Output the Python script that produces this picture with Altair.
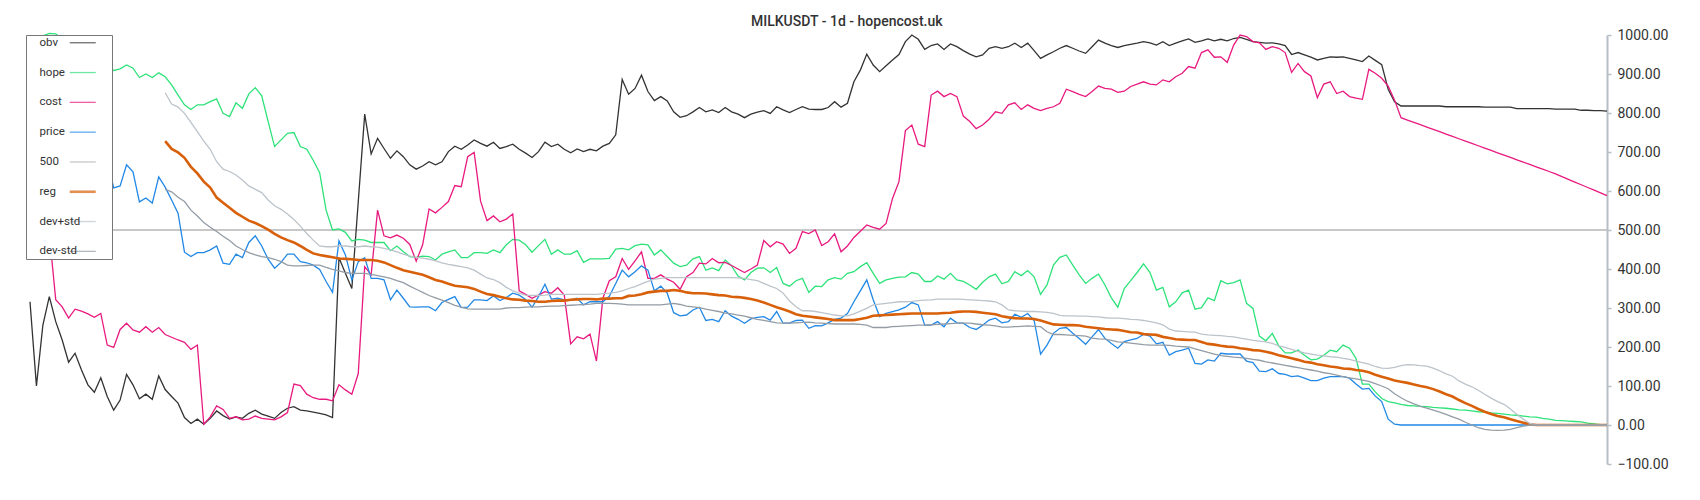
import altair as alt
import pandas as pd

N = 246          # daily points, index 0..245
REG_START = 21   # reg / dev lines start at this index

obv = [
    316, 100, 256, 329, 265, 218, 161, 184, 141, 103,
    84, 121, 73, 38, 64, 130, 103, 67, 79, 66,
    126, 91, 73, 56, 19, 4, 15, 2, 17, 36,
    24, 15, 21, 17, 30, 38, 28, 23, 17, 32,
    43, 47, 38, 36, 33, 30, 26, 19, 429, 389,
    350, 573, 797, 695, 735, 709, 684, 703, 688, 667,
    656, 664, 675, 667, 675, 701, 715, 707, 718, 731,
    722, 715, 725, 709, 714, 720, 707, 697, 686, 701,
    725, 714, 720, 707, 698, 708, 701, 707, 703, 715,
    722, 744, 886, 848, 863, 897, 855, 832, 842, 831,
    803, 789, 793, 803, 814, 803, 808, 801, 814, 803,
    797, 788, 797, 802, 806, 799, 816, 808, 801, 809,
    816, 810, 809, 809, 814, 829, 815, 825, 880, 910,
    951, 923, 906, 921, 936, 950, 983, 1000, 989, 963,
    973, 977, 963, 977, 970, 960, 951, 944, 949, 966,
    970, 966, 970, 979, 968, 979, 960, 940, 949, 957,
    966, 973, 966, 959, 953, 970, 987, 979, 973, 968,
    973, 976, 979, 983, 980, 974, 983, 973, 979, 985,
    990, 981, 985, 990, 985, 989, 985, 991, 994, 989,
    983, 981, 979, 980, 977, 973, 950, 955, 949, 943,
    936, 940, 944, 943, 944, 940, 936, 932, 946, 935,
    924, 861, 829, 818, 818, 818, 818, 818, 818, 818,
    816, 816, 816, 816, 816, 816, 815, 815, 815, 815,
    815, 811, 811, 811, 811, 811, 811, 810, 810, 810,
    810, 807, 807, 806, 806, 805,
]

hope = [
    960, 985, 998, 1004, 1003, 990, 972, 960, 950, 942,
    935, 928, 921, 909, 913, 923, 915, 891, 900, 891,
    903, 893, 872, 846, 821, 809, 821, 821, 829, 836,
    799, 791, 826, 812, 849, 865, 844, 778, 714, 731,
    748, 750, 714, 707, 679, 647, 551, 500, 503, 494,
    472, 476, 474, 468, 468, 468, 447, 459, 444, 432,
    430, 433, 432, 423, 438, 444, 449, 429, 429, 442,
    442, 440, 449, 442, 462, 476, 474, 462, 443, 460,
    476, 438, 449, 438, 438, 447, 417, 426, 426, 426,
    427, 451, 453, 449, 460, 464, 462, 436, 449, 432,
    415, 406, 410, 426, 432, 397, 403, 396, 423, 408,
    382, 372, 391, 402, 403, 391, 404, 363, 356, 370,
    376, 340, 356, 355, 372, 378, 374, 389, 393, 406,
    416, 389, 363, 372, 376, 379, 380, 391, 387, 368,
    368, 382, 374, 389, 372, 368, 359, 348, 366, 380,
    387, 362, 368, 393, 383, 396, 380, 335, 359, 410,
    430, 436, 410, 385, 363, 376, 387, 359, 326, 302,
    350, 370, 391, 413, 391, 346, 353, 303, 316, 339,
    346, 297, 301, 326, 319, 370, 362, 365, 372, 312,
    299, 228, 216, 235, 203, 185, 185, 192, 179, 167,
    169, 179, 192, 188, 205, 197, 171, 105, 105, 85,
    68, 60, 57, 53, 50, 49, 48, 47, 45, 44,
    43, 41, 39, 38, 36, 34, 33, 31, 30, 28,
    26, 25, 23, 21, 20, 17, 15, 12, 11, 10,
    9, 8, 5, 3, 1, 0,
]

cost = [
    600, 565, 530, 490, 321, 303, 274, 297, 292, 285,
    276, 286, 205, 199, 245, 261, 244, 238, 252, 238,
    250, 232, 225, 218, 212, 194, 205, 2, 21, 49,
    40, 17, 21, 13, 15, 23, 17, 15, 13, 21,
    32, 105, 101, 79, 70, 66, 66, 62, 103, 90,
    79, 132, 406, 385, 551, 485, 480, 487, 479, 463,
    420, 462, 554, 544, 558, 573, 614, 611, 688, 699,
    574, 524, 536, 521, 528, 541, 344, 335, 325, 333,
    342, 338, 352, 333, 208, 226, 221, 233, 164, 325,
    370, 380, 427, 399, 421, 444, 376, 376, 385, 374,
    366, 348, 380, 391, 415, 413, 427, 416, 417, 409,
    400, 391, 400, 410, 473, 457, 470, 464, 440, 453,
    496, 491, 500, 460, 470, 490, 444, 459, 481, 497,
    513, 507, 502, 517, 581, 624, 755, 769, 720, 714,
    846, 856, 842, 850, 842, 792, 778, 760, 769, 784,
    803, 799, 821, 826, 809, 821, 812, 806, 812, 816,
    825, 861, 855, 848, 842, 855, 869, 863, 861, 853,
    856, 868, 874, 880, 874, 872, 885, 880, 893, 902,
    919, 915, 955, 962, 943, 944, 930, 974, 1000, 996,
    983, 980, 963, 970, 966, 955, 904, 927, 906, 895,
    839, 874, 880, 850, 856, 842, 838, 835, 912, 902,
    889, 869, 833, 788, 782, 776, 770, 764, 758, 752,
    746, 740, 734, 728, 722, 716, 710, 704, 698, 692,
    686, 680, 674, 668, 662, 656, 650, 644, 637, 630,
    623, 616, 609, 602, 595, 588,
]

price = [
    700, 690, 712, 684, 662, 700, 688, 650, 640, 672,
    660, 648, 680, 608, 613, 667, 649, 572, 582, 569,
    636, 610, 577, 543, 443, 432, 442, 442, 449, 459,
    415, 412, 438, 429, 468, 485, 459, 425, 402, 417,
    438, 438, 419, 416, 410, 399, 368, 340, 472, 436,
    372, 419, 429, 376, 376, 372, 321, 346, 325, 303,
    302, 303, 303, 293, 314, 322, 329, 301, 302, 321,
    321, 319, 331, 319, 327, 338, 333, 322, 302, 329,
    361, 323, 325, 321, 321, 325, 308, 316, 316, 316,
    330, 363, 397, 380, 393, 408, 397, 344, 356, 338,
    288, 280, 282, 295, 302, 268, 271, 265, 293, 279,
    271, 261, 272, 276, 278, 269, 291, 261, 261, 268,
    269, 248, 255, 254, 262, 271, 274, 286, 316, 344,
    372, 321, 278, 286, 291, 295, 302, 314, 308, 256,
    256, 265, 252, 274, 262, 261, 250, 245, 256, 269,
    274, 262, 265, 284, 276, 286, 268, 182, 205, 235,
    248, 250, 235, 222, 207, 226, 245, 222, 209, 197,
    214, 218, 222, 233, 228, 208, 212, 179, 188, 192,
    197, 158, 156, 167, 164, 184, 182, 182, 182, 164,
    160, 138, 137, 144, 132, 130, 124, 126, 120, 114,
    114, 120, 124, 124, 124, 120, 105, 92, 94, 74,
    60, 15, 2, 0, 0, 0, 0, 0, 0, 0,
    0, 0, 0, 0, 0, 0, 0, 0, 0, 0,
    0, 0, 0, 0, 0, 0, 0, 0, 0, 0,
    0, 0, 0, 0, 0, 0,
]

# from index 21 on
reg = [
    728, 708, 699, 685, 662, 645, 624, 609, 583,
    570, 557, 544, 534, 524, 518, 510, 501, 490, 481,
    474, 468, 459, 449, 440, 436, 433, 430, 427, 426,
    425, 423, 423, 423, 421, 417, 410, 403, 397, 393,
    389, 385, 379, 372, 368, 362, 357, 355, 353, 349,
    342, 336, 333, 329, 325, 322, 321, 319, 318, 316,
    316, 318, 319, 319, 321, 322, 323, 323, 322, 324,
    324, 325, 325, 331, 332, 335, 340, 342, 344, 344,
    346, 344, 340, 338, 338, 337, 335, 333, 332, 329,
    328, 326, 323, 319, 314, 308, 302, 297, 291, 284,
    280, 278, 276, 274, 272, 269, 269, 269, 269, 272,
    275, 280, 281, 282, 283, 284, 285, 286, 286, 286,
    286, 286, 287, 288, 290, 291, 291, 290, 288, 286,
    284, 279, 276, 274, 273, 273, 272, 268, 263, 258,
    257, 256, 256, 255, 252, 250, 248, 246, 245, 244,
    241, 238, 237, 233, 232, 231, 226, 223, 220, 219,
    218, 218, 213, 208, 206, 203, 201, 200, 197, 195,
    192, 191, 188, 184, 179, 175, 171, 167, 162, 160,
    156, 153, 150, 148, 145, 144, 141, 139, 135, 129,
    124, 119, 114, 111, 108, 104, 100, 97, 92, 86,
    79, 73, 64, 56, 49, 41, 34, 28, 23, 20,
    15, 10, 6, 2, 0, 0, 0, 0, 0, 0,
    0, 0, 0, 0, 0, 0,
]

dev_plus = [
    852, 823, 815, 799, 776, 752, 728, 707, 675,
    656, 650, 641, 628, 613, 604, 596, 577, 562, 553,
    541, 527, 510, 491, 474, 459, 457, 457, 459, 459,
    457, 457, 459, 457, 456, 453, 449, 444, 438, 433,
    430, 428, 425, 421, 416, 412, 409, 406, 403, 397,
    387, 377, 373, 365, 353, 344, 338, 333, 332, 332,
    333, 335, 335, 335, 335, 335, 335, 335, 335, 337,
    338, 340, 344, 350, 355, 362, 368, 374, 376, 378,
    378, 378, 378, 378, 378, 378, 378, 378, 378, 378,
    377, 376, 373, 370, 363, 356, 350, 338, 318, 303,
    293, 293, 291, 288, 285, 282, 280, 280, 285, 292,
    299, 308, 310, 312, 314, 316, 316, 317, 319, 320,
    321, 323, 323, 323, 323, 322, 321, 320, 319, 318,
    316, 308, 295, 293, 292, 291, 291, 290, 289, 286,
    281, 280, 280, 279, 279, 278, 277, 275, 274, 274,
    273, 271, 270, 268, 265, 262, 257, 246, 241, 240,
    239, 238, 233, 231, 230, 229, 227, 226, 223, 220,
    217, 215, 213, 209, 203, 199, 194, 189, 185, 182,
    179, 177, 175, 174, 171, 168, 164, 160, 156, 150,
    146, 145, 148, 152, 155, 154, 152, 151, 146, 139,
    131, 125, 113, 105, 98, 89, 79, 69, 60, 53,
    41, 27, 15, 4, 0, 0, 0, 0, 0, 0,
    0, 0, 0, 0, 0, 0,
]

dev_minus = [
    604, 598, 584, 573, 551, 536, 519, 507, 496,
    484, 473, 459, 450, 442, 436, 432, 429, 425, 419,
    410, 408, 408, 409, 410, 410, 404, 399, 395, 391,
    389, 389, 389, 386, 383, 380, 376, 370, 365, 356,
    348, 340, 332, 326, 320, 314, 307, 302, 298, 297,
    297, 297, 297, 297, 300, 301, 301, 302, 303, 303,
    304, 305, 305, 306, 307, 308, 309, 310, 312, 312,
    312, 311, 310, 308, 308, 308, 308, 308, 308, 310,
    312, 309, 305, 303, 301, 297, 294, 291, 287, 285,
    282, 279, 275, 271, 268, 265, 262, 261, 261, 262,
    263, 264, 262, 261, 260, 259, 259, 259, 259, 258,
    256, 250, 250, 250, 252, 253, 254, 255, 256, 256,
    257, 258, 259, 260, 261, 261, 261, 259, 257, 256,
    254, 251, 251, 252, 253, 254, 253, 252, 239, 232,
    232, 231, 230, 229, 228, 223, 221, 220, 217, 213,
    212, 210, 208, 206, 205, 205, 205, 204, 202, 201,
    200, 195, 191, 186, 182, 178, 176, 174, 173, 171,
    168, 166, 162, 159, 156, 153, 150, 147, 144, 141,
    138, 134, 132, 128, 124, 121, 118, 115, 112, 106,
    100, 93, 80, 70, 61, 54, 48, 43, 38, 33,
    27, 21, 15, 7, 0, -7, -11, -13, -14, -13,
    -11, -7, -3, 0, 0, 0, 0, 0, 0, 0,
    0, 0, 0, 0, 0, 0,
]

LEVEL = 500
y_ticks = [-100, 0, 100, 200, 300, 400, 500, 600, 700, 800, 900, 1000]

series_names = ["obv", "hope", "cost", "price", "500", "reg", "dev+std", "dev-std"]
series_colors = ["#333333", "#2ee27a", "#e8197f", "#2188e6", "#c8c8c8",
                 "#d8600a", "#bcc3ca", "#939ca5"]
series_widths = [1.3, 1.3, 1.3, 1.3, 1.8, 2.6, 1.3, 1.3]

for nm, arr in [("obv", obv), ("hope", hope), ("cost", cost), ("price", price)]:
    if len(arr) != N:
        raise ValueError(f"{nm} has {len(arr)} values")
for nm, arr in [("reg", reg), ("dev+std", dev_plus), ("dev-std", dev_minus)]:
    if len(arr) != N - REG_START:
        raise ValueError(f"{nm} has {len(arr)} values")

rows = []
for nm, arr in [("obv", obv), ("hope", hope), ("cost", cost), ("price", price)]:
    for i, v in enumerate(arr):
        rows.append({"i": i, "v": v, "s": nm})
for nm, arr in [("reg", reg), ("dev+std", dev_plus), ("dev-std", dev_minus)]:
    for j, v in enumerate(arr):
        rows.append({"i": REG_START + j, "v": v, "s": nm})
df = pd.DataFrame(rows)
level_df = pd.DataFrame({"v": [LEVEL], "s": ["500"]})

y_enc = alt.Y(
    "v:Q",
    scale=alt.Scale(domain=[-100, 1000], nice=False, zero=False),
    axis=alt.Axis(
        orient="right", values=y_ticks, format=".2f", title=None, grid=False,
        labelFont="Roboto", labelFontSize=14, labelColor="#333333",
        labelPadding=6, labelFlush=False, labelOverlap=False,
        domainColor="#b6bec6", domainWidth=2,
        tickColor="#b6bec6", tickWidth=1.5, tickSize=4,
    ),
)

# legend symbol: a stroke drawn to the right of the label
# (path units are scaled by sqrt(symbolSize)/2 = 1 px); the trailing
# move-to only widens the legend frame.
legend_symbol = "M36,0H62M71,0"

color_enc = alt.Color(
    "s:N",
    scale=alt.Scale(domain=series_names, range=series_colors),
    legend=alt.Legend(
        title=None, orient="none", legendX=-4, legendY=0, zindex=1,
        fillColor="white", strokeColor="#777777", padding=2,
        symbolType=legend_symbol, symbolSize=4, symbolStrokeWidth=2,
        symbolOpacity=0.7, symbolOffset=0, labelOffset=0,
        rowPadding=16.8,
        labelFont="Roboto", labelFontSize=11.5, labelColor="#333333",
    ),
)

rule = alt.Chart(level_df).mark_rule(strokeWidth=1.8).encode(
    y=y_enc,
    color=color_enc,
)

lines = alt.Chart(df).mark_line(interpolate="linear").encode(
    x=alt.X("i:Q", scale=alt.Scale(domain=[0, N - 1], nice=False, zero=False), axis=None),
    y=y_enc,
    color=color_enc,
    strokeWidth=alt.StrokeWidth(
        "s:N",
        scale=alt.Scale(type="ordinal", domain=series_names, range=series_widths),
        legend=None,
    ),
)

chart = alt.layer(rule, lines).properties(
    width=1577,
    height=429,
    title=alt.Title(
        "MILKUSDT - 1d - hopencost.uk",
        anchor="middle", frame="bounds", font="Roboto", fontSize=14,
        fontWeight=500, color="#333333", offset=7, dy=8,
    ),
    autosize=alt.AutoSizeParams(type="none"),
    padding={"left": 22, "top": 27, "right": 80, "bottom": 15},
    background="white",
).configure_view(stroke=None)

chart.save("out.html", embed_options={"renderer": "svg", "actions": False})
